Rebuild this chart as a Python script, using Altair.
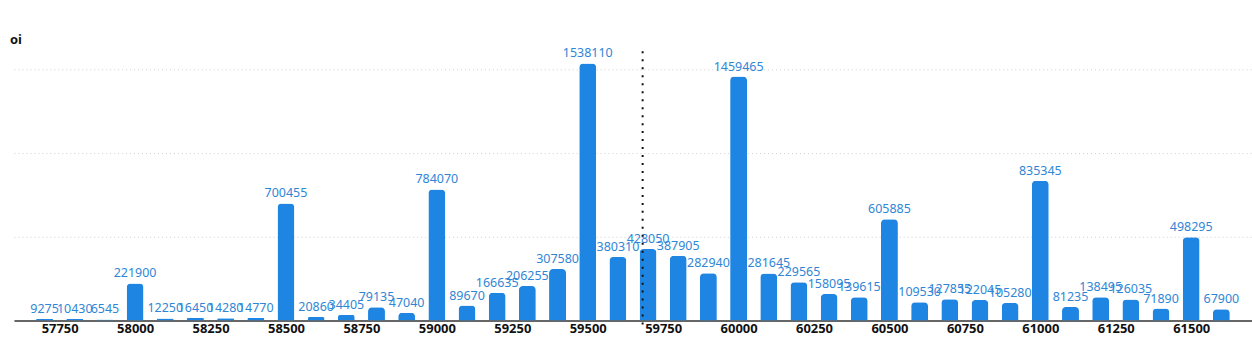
import altair as alt
import pandas as pd

strikes = [57700, 57800, 57900, 58000, 58100, 58200, 58300, 58400, 58500, 58600,
           58700, 58800, 58900, 59000, 59100, 59200, 59300, 59400, 59500, 59600,
           59700, 59800, 59900, 60000, 60100, 60200, 60300, 60400, 60500, 60600,
           60700, 60800, 60900, 61000, 61100, 61200, 61300, 61400, 61500, 61600]
oi = [9275, 10430, 6545, 221900, 12250, 16450, 14280, 14770, 700455, 20860,
      34405, 79135, 47040, 784070, 89670, 166635, 206255, 307580, 1538110, 380310,
      428050, 387905, 282940, 1459465, 281645, 229565, 158095, 139615, 605885, 109530,
      127855, 122045, 105280, 835345, 81235, 138495, 126035, 71890, 498295, 67900]
x_ticks = [57750, 58000, 58250, 58500, 58750, 59000, 59250, 59500, 59750, 60000,
           60250, 60500, 60750, 61000, 61250, 61500]
y_grid = [500000, 1000000, 1500000]
spot = [59682]

df = pd.DataFrame({"strike": strikes, "oi": oi})
spot_df = pd.DataFrame({"spot": spot})

FONT = "Noto Sans"
BLUE = "#1e85e3"

xscale = alt.Scale(domain=[57615, 61685], nice=False, zero=False)
yscale = alt.Scale(domain=[0, 1610000], nice=False)

bars = alt.Chart(df).mark_bar(
    size=17, color=BLUE, cornerRadiusTopLeft=4, cornerRadiusTopRight=4
).encode(
    x=alt.X("strike:Q", scale=xscale,
            axis=alt.Axis(values=x_ticks, title=None, grid=False, ticks=False,
                          labelFont=FONT, labelFontSize=13, labelFontWeight="bold",
                          labelColor="#111111", labelPadding=2, format="d",
                          domainColor="#333333", domainWidth=1.5,
                          labelFlush=False, labelOverlap=False)),
    y=alt.Y("oi:Q", scale=yscale,
            axis=alt.Axis(values=y_grid, title=None, labels=False, ticks=False,
                          domain=False, grid=True, gridColor="#cfcfcf",
                          gridDash=[1, 3], gridWidth=1)),
)

labels = alt.Chart(df).mark_text(
    font=FONT, fontSize=12.5, color="#2f86d6", baseline="alphabetic", dy=-6
).encode(
    x=alt.X("strike:Q", scale=xscale),
    y=alt.Y("oi:Q", scale=yscale),
    text=alt.Text("oi:Q", format="d"),
)

rule = alt.Chart(spot_df).mark_rule(
    color="#111111", strokeWidth=2, strokeDash=[2, 6]
).encode(
    x=alt.X("spot:Q", scale=xscale),
    y=alt.value(0),
    y2=alt.value(276),
)

chart = alt.layer(bars, labels, rule).properties(
    width=1242, height=270,
    background="white",
    padding={"left": 10, "top": 34, "right": 0, "bottom": 0},
    title=alt.TitleParams("oi", anchor="start", font=FONT, fontSize=13,
                          fontWeight="bold", color="#111111", dx=-4, offset=0),
).configure_view(stroke=None)

chart.save("out.html", embed_options={"renderer": "svg", "actions": False})
